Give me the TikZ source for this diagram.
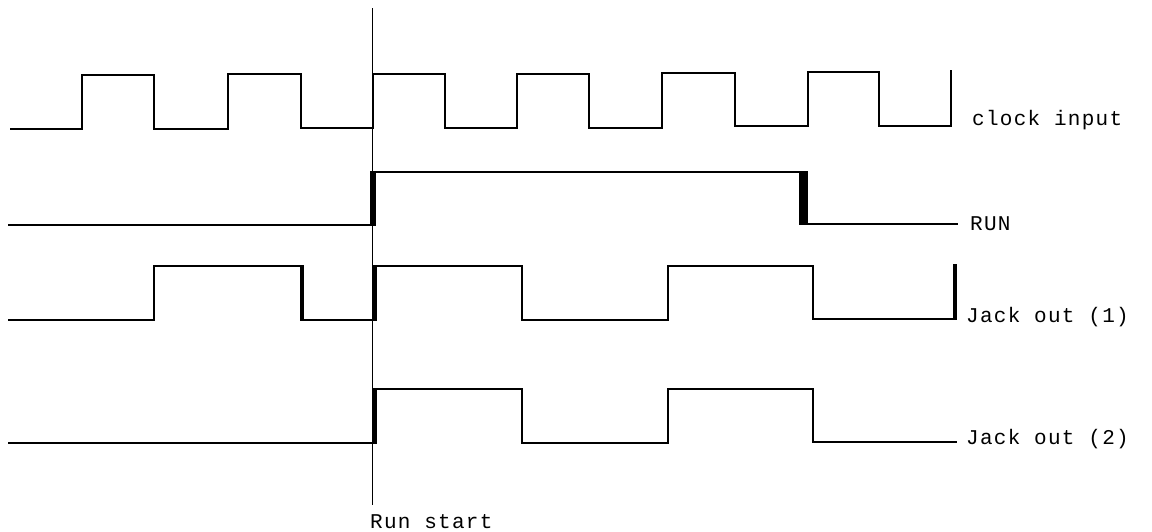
\documentclass[tikz,border=0pt]{standalone}
\usepackage{fontspec}
\setmonofont{Liberation Mono}[LetterSpace=6]
\begin{document}
\begin{tikzpicture}[x=1pt,y=-1pt,
  sig/.style={line width=1.6pt,line join=miter},
  edge/.style={fill=black},
  lbl/.style={font=\ttfamily\fontsize{21}{21}\selectfont,anchor=base west,inner sep=0pt}]
\useasboundingbox[fill=white] (0,0) rectangle (1152,531);
% run start marker
\draw[line width=1.4pt] (372.5,8) -- (372.5,505);
% clock input
\draw[sig] (10,129) -- (82,129) -- (82,75) -- (154,75) -- (154,129) -- (228,129) -- (228,74)
  -- (301,74) -- (301,128) -- (373,128) -- (373,74) -- (445,74) -- (445,128) -- (517,128)
  -- (517,74) -- (589,74) -- (589,128) -- (662,128) -- (662,73) -- (735,73) -- (735,126)
  -- (808,126) -- (808,72) -- (879,72) -- (879,126) -- (951,126) -- (951,70);
% RUN
\draw[sig] (8,225) -- (373,225) -- (373,172) -- (803,172) -- (803,224) -- (958,224);
\fill[edge] (370,171) rectangle (376,226);
\fill[edge] (799,171) rectangle (808,225);
% Jack out (1)
\draw[sig] (8,320) -- (154,320) -- (154,266) -- (302,266) -- (302,320) -- (373,320)
  -- (373,266) -- (522,266) -- (522,320) -- (668,320) -- (668,266) -- (813,266)
  -- (813,319) -- (955,319);
\fill[edge] (300,265) rectangle (304,321);
\fill[edge] (372,265) rectangle (377,321);
\fill[edge] (953,264) rectangle (957,320);
% Jack out (2)
\draw[sig] (8,443) -- (373,443) -- (373,389) -- (522,389) -- (522,443) -- (668,443)
  -- (668,389) -- (813,389) -- (813,442) -- (957,442);
\fill[edge] (372,388) rectangle (377,444);
% labels
\node[lbl] (clk) at (972,125) {clock input};
\node[lbl] (run) at (970,230) {RUN};
\node[lbl] (j1) at (966,322) {Jack out (1)};
\node[lbl] (j2) at (966,444) {Jack out (2)};
\node[lbl] (rs) at (370,528) {Run start};
\end{tikzpicture}
\end{document}
